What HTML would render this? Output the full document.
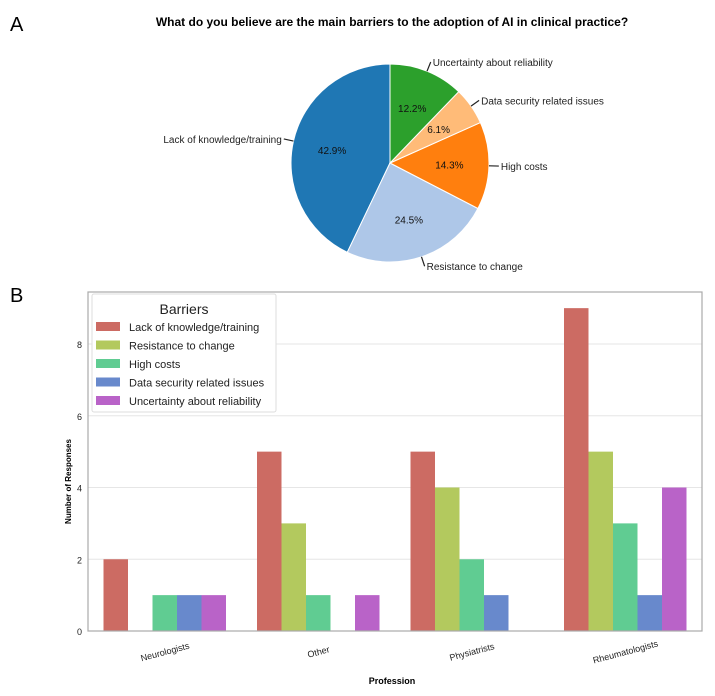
<!DOCTYPE html>
<html><head><meta charset="utf-8"><style>
body{margin:0;background:#fff;width:715px;height:696px;overflow:hidden;font-family:"Liberation Sans",sans-serif}
svg{display:block}
</style></head><body>
<svg width="715" height="696" xmlns="http://www.w3.org/2000/svg" font-family="Liberation Sans, sans-serif">
<text x="10" y="31" font-size="20">A</text>
<text x="10" y="302" font-size="20">B</text>
<text x="392" y="26" font-size="12" font-weight="bold" text-anchor="middle">What do you believe are the main barriers to the adoption of AI in clinical practice?</text>
<g id="pie"></g>
<g id="bars"></g>
</svg>
<script>
const pieLabels=["Lack of knowledge/training","Resistance to change","High costs","Data security related issues","Uncertainty about reliability"];
const pieValues=[42.9,24.5,14.3,6.1,12.2];
const pieColors=["#1f77b4","#aec7e8","#ff7f0e","#ffbb78","#2ca02c"];
const categories=["Neurologists","Other","Physiatrists","Rheumatologists"];
const seriesNames=["Lack of knowledge/training","Resistance to change","High costs","Data security related issues","Uncertainty about reliability"];
const lackValues=[2,5,5,9];
const resistValues=[0,3,4,5];
const costValues=[1,1,2,3];
const securityValues=[1,0,1,1];
const uncertValues=[1,1,0,4];
const yTicks=[0,2,4,6,8];
const barColors=["#cc6b63","#b3c95e","#60cc92","#6889cc","#b963c8"];
const NS="http://www.w3.org/2000/svg";
function mk(tag,attrs,parent){const e=document.createElementNS(NS,tag);for(const k in attrs)e.setAttribute(k,attrs[k]);parent.appendChild(e);return e;}
// Pie
const pie=document.getElementById('pie');
const cx=390,cy=163,r=99;
const total=pieValues.reduce((a,b)=>a+b,0);
let ang=90;
pieValues.forEach((v,i)=>{
  const a0=ang,a1=ang+v/total*360;ang=a1;
  const p=a=>[cx+r*Math.cos(a*Math.PI/180),cy-r*Math.sin(a*Math.PI/180)];
  const [x0,y0]=p(a0),[x1,y1]=p(a1);
  const large=(a1-a0)>180?1:0;
  const path=mk('path',{d:`M${cx},${cy}L${x0},${y0}A${r},${r} 0 ${large} 0 ${x1},${y1}Z`,fill:pieColors[i],stroke:'#fff','stroke-width':1},pie);
  
  
  const mid=(a0+a1)/2*Math.PI/180;
  const t=mk('text',{x:cx+0.6*r*Math.cos(mid),y:cy-0.6*r*Math.sin(mid)+4,'font-size':10,'text-anchor':'middle',fill:'#111'},pie);
  t.textContent=v.toFixed(1)+'%';
  
  
  const ex=cx+r*Math.cos(mid),ey=cy-r*Math.sin(mid);
  const lx=cx+1.1*r*Math.cos(mid),ly=cy-1.1*r*Math.sin(mid);
  mk('line',{x1:ex,y1:ey,x2:lx,y2:ly,stroke:'#222','stroke-width':1.2},pie);
  const right=Math.cos(mid)>=0;
  const lt=mk('text',{x:lx+(right?2:-2),y:ly+4,'font-size':10,'text-anchor':right?'start':'end',fill:'#222'},pie);
  lt.textContent=pieLabels[i];
  
  
});
// Bars
const g=document.getElementById('bars');
const L=88,R=702,T=292,B=631;
const yMax=9.45;
const ys=v=>B-v/yMax*(B-T);
const groupW=(R-L)/categories.length;
const xc=i=>L+groupW*(i+0.5);
const bw=24.5;
yTicks.forEach(t=>{
  if(t>0)mk('line',{x1:L,x2:R,y1:ys(t),y2:ys(t),stroke:'#e6e6e6','stroke-width':1},g);
  const tx=mk('text',{x:L-6,y:ys(t)+4,'font-size':9,'text-anchor':'end',fill:'#222'},g);
  tx.textContent=t;
  
  
});
const series=[lackValues,resistValues,costValues,securityValues,uncertValues];
series.forEach((vals,s)=>{
  vals.forEach((v,i)=>{
    if(v<=0)return;
    const x=xc(i)+(s-2.5)*bw;
    const rc=mk('rect',{x:x,y:ys(v),width:bw,height:B-ys(v),fill:barColors[s]},g);
    
    
  });
});
mk('rect',{x:L,y:T,width:R-L,height:B-T,fill:'none',stroke:'#aaa','stroke-width':1.2},g);
categories.forEach((c,i)=>{
  const t=mk('text',{x:xc(i),y:B+24,'font-size':9,'text-anchor':'middle',fill:'#222',transform:`rotate(-15 ${xc(i)} ${B+20})`},g);
  t.textContent=c;
  
  
});
const xt=mk('text',{x:392,y:684,'font-size':9,'font-weight':'bold','text-anchor':'middle'},g);
xt.textContent='Profession';


const yt=mk('text',{x:0,y:0,'font-size':8,'font-weight':'bold','text-anchor':'middle',transform:`translate(71 ${(T+B)/2+20}) rotate(-90)`},g);
yt.textContent='Number of Responses';


// Legend
const lg=mk('g',{},g);


mk('rect',{x:92,y:294,width:184,height:118,fill:'#fff',stroke:'#ddd','stroke-width':1,rx:2},lg);
const lt=mk('text',{x:184,y:314,'font-size':14,'text-anchor':'middle',fill:'#222'},lg);
lt.textContent='Barriers';


seriesNames.forEach((n,s)=>{
  const y=322+s*18.5;
  mk('rect',{x:96,y:y,width:24,height:9,fill:barColors[s]},lg);
  const t=mk('text',{x:129,y:y+9,'font-size':11,fill:'#222'},lg);
  t.textContent=n;
  
  
});
</script>
</body></html>
